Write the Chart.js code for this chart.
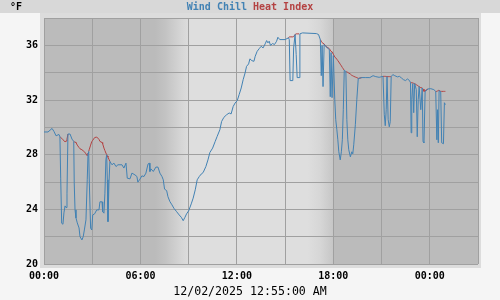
<!DOCTYPE html>
<html>
<head>
<meta charset="utf-8">
<title>Wind Chill / Heat Index</title>
<script src="https://cdn.jsdelivr.net/npm/chart.js@4.4.1/dist/chart.umd.min.js"></script>
<style>
  html, body { margin: 0; padding: 0; background: #f5f5f5; }
  #chartWrap { width: 500px; height: 300px; }
</style>
</head>
<body>
<div id="chartWrap"><canvas id="windChillChart" width="500" height="300"></canvas></div>
<script>
// --- DATA (hours since 00:00 of 12/01) ---
const hours = [
  0.00, 0.25, 0.50, 0.62, 0.75, 0.93, 0.99, 1.04, 1.10, 1.18,
  1.24, 1.31, 1.37, 1.43, 1.49, 1.62, 1.74, 1.85, 1.88, 1.93,
  1.99, 2.07, 2.18, 2.24, 2.36, 2.44, 2.51, 2.61, 2.69, 2.74,
  2.78, 2.82, 2.90, 2.97, 3.03, 3.15, 3.28, 3.42, 3.48, 3.61,
  3.65, 3.73, 3.79, 3.85, 3.90, 3.94, 3.98, 4.04, 4.10, 4.23,
  4.35, 4.48, 4.60, 4.85, 4.97, 5.10, 5.18, 5.35, 5.47, 5.66,
  5.78, 5.84, 5.97, 6.09, 6.22, 6.34, 6.47, 6.55, 6.59, 6.65,
  6.80, 6.96, 7.09, 7.21, 7.34, 7.42, 7.50, 7.63, 7.71, 7.83,
  7.96, 8.08, 8.25, 8.41, 8.54, 8.66, 8.77, 8.87, 9.00, 9.16,
  9.28, 9.41, 9.53, 9.66, 9.78, 9.90, 10.07, 10.20, 10.32, 10.49,
  10.65, 10.77, 10.94, 11.05, 11.19, 11.36, 11.52, 11.64, 11.77, 11.89,
  12.02, 12.14, 12.27, 12.39, 12.51, 12.60, 12.73, 12.81, 12.93, 13.06,
  13.14, 13.26, 13.39, 13.51, 13.63, 13.76, 13.85, 13.93, 14.01, 14.09,
  14.22, 14.34, 14.47, 14.55, 14.67, 15.00, 15.21, 15.26, 15.31, 15.48,
  15.53, 15.62, 15.69, 15.75, 15.87, 15.92, 16.08, 16.95, 17.08, 17.19,
  17.25, 17.30, 17.36, 17.43, 17.53, 17.75, 17.81, 17.86, 17.92, 18.00,
  18.09, 18.15, 18.22, 18.28, 18.34, 18.43, 18.50, 18.56, 18.62, 18.68,
  18.78, 18.84, 18.90, 18.96, 19.06, 19.15, 19.21, 19.27, 19.37, 19.46,
  19.55, 19.77, 20.02, 20.27, 20.47, 20.64, 20.85, 21.09, 21.17, 21.23,
  21.29, 21.34, 21.41, 21.48, 21.54, 21.60, 21.70, 21.82, 21.99, 22.11,
  22.24, 22.36, 22.49, 22.61, 22.74, 22.80, 22.84, 22.88, 22.94, 23.00,
  23.06, 23.16, 23.22, 23.28, 23.34, 23.44, 23.53, 23.58, 23.64, 23.71,
  23.89, 24.06, 24.25, 24.37, 24.44, 24.48, 24.53, 24.58, 24.68, 24.74,
  24.85, 24.91, 24.97
];

const windChill = [
  29.66, 29.66, 29.92, 29.70, 29.38, 29.48, 29.32, 26.23, 22.98, 22.91,
  23.74, 24.25, 24.13, 25.18, 29.51, 29.51, 29.14, 28.97, 25.94, 23.96,
  23.37, 23.01, 22.64, 22.00, 21.76, 22.00, 22.49, 23.23, 26.16, 28.12,
  28.23, 25.92, 22.62, 22.49, 23.59, 23.67, 23.96, 23.96, 24.55, 24.55,
  23.83, 23.72, 25.18, 27.62, 27.99, 26.16, 23.10, 25.92, 27.50, 27.26,
  27.38, 27.13, 27.26, 27.26, 27.02, 27.38, 26.28, 26.23, 26.65, 26.52,
  26.40, 25.99, 26.21, 26.45, 26.40, 26.65, 27.31, 27.38, 26.77, 26.96,
  26.77, 27.09, 27.09, 26.65, 26.40, 26.16, 25.48, 25.37, 24.93, 24.57,
  24.33, 24.08, 23.83, 23.59, 23.42, 23.17, 23.42, 23.67, 23.89, 24.40,
  24.82, 25.43, 26.16, 26.40, 26.58, 26.69, 27.13, 27.62, 28.16, 28.48,
  28.97, 29.33, 29.82, 30.43, 30.73, 30.92, 31.05, 30.98, 31.53, 31.78,
  31.95, 32.39, 32.88, 33.49, 33.98, 34.46, 34.64, 35.01, 34.88, 34.83,
  35.20, 35.56, 35.76, 35.93, 35.81, 36.11, 36.35, 36.18, 36.30, 36.00,
  36.13, 36.06, 36.30, 36.59, 36.42, 36.42, 36.55, 36.42, 33.42, 33.42,
  35.81, 36.79, 35.32, 33.64, 33.64, 36.84, 36.91, 36.86, 36.79, 36.42,
  33.78, 35.98, 32.98, 36.06, 35.91, 35.69, 32.24, 35.47, 32.17, 35.25,
  32.02, 30.56, 29.82, 29.09, 28.21, 27.62, 28.21, 29.09, 31.29, 34.17,
  34.08, 30.56, 29.09, 28.36, 27.84, 28.21, 28.06, 28.72, 30.19, 32.02,
  33.56, 33.64, 33.64, 33.64, 33.78, 33.71, 33.66, 33.73, 30.92, 30.12,
  31.29, 33.71, 30.56, 30.04, 30.41, 33.71, 33.86, 33.78, 33.69, 33.73,
  33.61, 33.49, 33.42, 33.54, 33.42, 33.27, 29.60, 32.02, 33.20, 31.07,
  33.20, 32.76, 29.31, 32.02, 32.98, 31.29, 32.88, 28.94, 28.87, 32.61,
  32.81, 32.83, 32.76, 32.63, 29.09, 31.29, 28.87, 32.68, 32.61, 28.87,
  28.80, 31.80, 31.66
];

const heatIndex = [
  29.66, 29.66, 29.92, 29.70, 29.38, 29.48, 29.32, 29.25, 29.20, 29.09,
  29.02, 28.94, 29.00, 29.14, 29.51, 29.51, 29.14, 28.97, 28.94, 28.92,
  28.89, 28.70, 28.52, 28.43, 28.36, 28.28, 28.22, 28.06, 27.92, 28.12,
  28.23, 28.40, 28.70, 28.95, 29.05, 29.25, 29.29, 29.12, 28.97, 28.89,
  28.80, 28.48, 28.30, 28.12, 28.00, 27.90, 27.82, 27.66, 27.50, 27.26,
  27.38, 27.13, 27.26, 27.26, 27.02, 27.38, 26.28, 26.23, 26.65, 26.52,
  26.40, 25.99, 26.21, 26.45, 26.40, 26.65, 27.31, 27.38, 26.77, 26.96,
  26.77, 27.09, 27.09, 26.65, 26.40, 26.16, 25.48, 25.37, 24.93, 24.57,
  24.33, 24.08, 23.83, 23.59, 23.42, 23.17, 23.42, 23.67, 23.89, 24.40,
  24.82, 25.43, 26.16, 26.40, 26.58, 26.69, 27.13, 27.62, 28.16, 28.48,
  28.97, 29.33, 29.82, 30.43, 30.73, 30.92, 31.05, 30.98, 31.53, 31.78,
  31.95, 32.39, 32.88, 33.49, 33.98, 34.46, 34.64, 35.01, 34.88, 34.83,
  35.20, 35.56, 35.76, 35.93, 35.81, 36.11, 36.35, 36.18, 36.30, 36.00,
  36.13, 36.06, 36.30, 36.59, 36.42, 36.42, 36.55, 36.62, 36.62, 36.62,
  36.64, 36.79, 36.84, 36.84, 36.84, 36.84, 36.91, 36.86, 36.79, 36.42,
  36.30, 36.20, 36.15, 36.10, 35.93, 35.76, 35.65, 35.55, 35.53, 35.35,
  35.15, 35.08, 34.98, 34.88, 34.78, 34.62, 34.50, 34.38, 34.28, 34.17,
  34.08, 34.05, 34.02, 33.97, 33.90, 33.80, 33.77, 33.73, 33.68, 33.64,
  33.58, 33.64, 33.64, 33.64, 33.78, 33.71, 33.66, 33.73, 33.73, 33.73,
  33.72, 33.71, 33.71, 33.71, 33.71, 33.71, 33.86, 33.78, 33.69, 33.73,
  33.61, 33.49, 33.42, 33.54, 33.42, 33.27, 33.27, 33.26, 33.25, 33.22,
  33.20, 33.12, 33.08, 33.02, 32.98, 32.90, 32.88, 32.80, 32.63, 32.68,
  32.81, 32.83, 32.76, 32.63, 32.63, 32.66, 32.70, 32.70, 32.63, 32.63,
  32.63, 32.63, 32.63
];

const xTickLabels = ['00:00', '', '06:00', '', '12:00', '', '18:00', '', '00:00', ''];
const yTickLabels = [20, 24, 28, 32, 36];
// dawn start, dawn end, dusk start, dusk end (hours)
const daylight = [6.9, 9.1, 16.4, 18.0];
const unitLabel = '°F';
const bottomLabel = '12/02/2025 12:55:00 AM';

const colorWindChill = '#4282b4';
const colorHeatIndex = '#b44242';

// --- PLUGINS ---
const fondoPlugin = {
  id: 'fondo',
  beforeDraw(chart) {
    const { ctx, chartArea: a } = chart;
    const x = chart.scales.x;
    ctx.save();
    ctx.fillStyle = '#f5f5f5';
    ctx.fillRect(0, 0, chart.width, chart.height);
    ctx.fillStyle = '#d8d8d8';
    ctx.fillRect(0, 0, chart.width, 13);
    // marco claro alrededor del área del gráfico
    ctx.fillStyle = '#dcdcdc';
    ctx.fillRect(a.left - 4, 13, a.right - a.left + 7, a.bottom + 4 - 13);
    // noche
    ctx.fillStyle = '#bbbbbb';
    ctx.fillRect(a.left, a.top, a.right - a.left, a.bottom - a.top);
    // día con transiciones
    const x0 = x.getPixelForValue(daylight[0]);
    const x1 = x.getPixelForValue(daylight[1]);
    const x2 = x.getPixelForValue(daylight[2]);
    const x3 = x.getPixelForValue(daylight[3]);
    const w = x3 - x0;
    const g = ctx.createLinearGradient(x0, 0, x3, 0);
    g.addColorStop(0, '#bbbbbb');
    g.addColorStop((x1 - x0) * 0.3 / w, '#c3c3c3');
    g.addColorStop((x1 - x0) * 0.7 / w, '#d4d4d4');
    g.addColorStop((x1 - x0) / w, '#dedede');
    g.addColorStop((x2 - x0) / w, '#dedede');
    g.addColorStop((x2 - x0 + (x3 - x2) * 0.5) / w, '#d6d6d6');
    g.addColorStop(0.999, '#c6c6c6');
    g.addColorStop(1, '#bbbbbb');
    ctx.fillStyle = g;
    ctx.fillRect(x0, a.top, w, a.bottom - a.top);
    ctx.restore();
  }
};

const textosPlugin = {
  id: 'textos',
  afterDraw(chart) {
    const ctx = chart.ctx;
    ctx.save();
    ctx.textBaseline = 'middle';
    ctx.textAlign = 'left';
    ctx.font = 'bold 10px "DejaVu Sans Mono"';
    ctx.fillStyle = '#000000';
    ctx.fillText(unitLabel, 10, 7);

    // título con los nombres de las series
    const nombres = chart.data.datasets.map(d => d.label);
    const colores = chart.data.datasets.map(d => d.borderColor);
    const total = ctx.measureText(nombres.join(' ')).width;
    let xPos = 250 - total / 2;
    nombres.forEach((n, i) => {
      ctx.fillStyle = colores[i];
      ctx.fillText(n, xPos, 7);
      xPos += ctx.measureText(n + ' ').width;
    });

    ctx.font = '11.6px "DejaVu Sans Mono"';
    ctx.textAlign = 'center';
    ctx.fillStyle = '#000000';
    ctx.fillText(bottomLabel, 250, 292);
    ctx.restore();
  }
};

// el índice de calor queda tapado por la sensación térmica donde coinciden
function colorTramoCalor(c) {
  const a = c.p0DataIndex;
  const b = c.p1DataIndex;
  const igual = heatIndex[a] === windChill[a] && heatIndex[b] === windChill[b];
  return igual ? 'rgba(0,0,0,0)' : colorHeatIndex;
}

// --- GRÁFICO ---
const tickFont = { family: 'DejaVu Sans Mono', size: 10, weight: 'bold' };

new Chart(document.getElementById('windChillChart'), {
  type: 'line',
  data: {
    datasets: [
      {
        label: 'Wind Chill',
        data: hours.map((h, i) => ({ x: h, y: windChill[i] })),
        borderColor: colorWindChill,
        borderWidth: 1,
        pointRadius: 0,
        tension: 0,
        fill: false
      },
      {
        label: 'Heat Index',
        data: hours.map((h, i) => ({ x: h, y: heatIndex[i] })),
        borderColor: colorHeatIndex,
        segment: { borderColor: colorTramoCalor },
        borderWidth: 1,
        pointRadius: 0,
        tension: 0,
        fill: false
      }
    ]
  },
  options: {
    responsive: false,
    devicePixelRatio: 1,
    animation: false,
    layout: { padding: { top: 18, right: 22, left: 0, bottom: 0 } },
    plugins: {
      legend: { display: false },
      title: { display: false },
      tooltip: { enabled: false }
    },
    scales: {
      x: {
        type: 'linear',
        min: 0,
        max: 27,
        afterFit: s => { s.height = 36; },
        ticks: {
          stepSize: 3,
          autoSkip: false,
          maxRotation: 0,
          padding: 6.5,
          color: '#000000',
          font: tickFont,
          callback: (v, i) => xTickLabels[i]
        },
        grid: { color: '#a0a0a0', lineWidth: 1, drawTicks: false },
        border: { display: false }
      },
      y: {
        min: 20,
        max: 38,
        afterFit: s => { s.width = 44; },
        ticks: {
          stepSize: 2,
          padding: 6,
          color: '#000000',
          font: tickFont,
          callback: v => yTickLabels.includes(v) ? String(v) : ''
        },
        grid: { color: '#a0a0a0', lineWidth: 1, drawTicks: false },
        border: { display: false }
      }
    }
  },
  plugins: [fondoPlugin, textosPlugin]
});
</script>
</body>
</html>
